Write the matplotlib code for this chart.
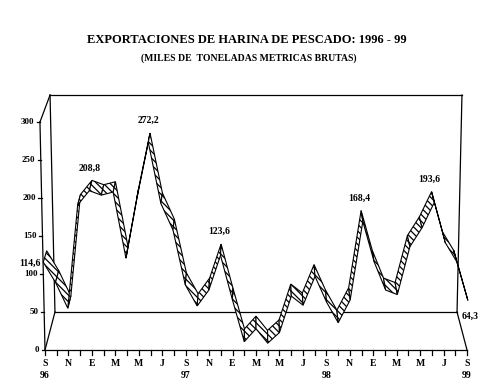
import numpy as np
import matplotlib.pyplot as plt
from matplotlib.patches import Polygon

plt.rcParams['font.family'] = ['Liberation Serif', 'DejaVu Serif']
plt.rcParams['font.weight'] = 'bold'
plt.rcParams['hatch.linewidth'] = 0.9

# Datos: exportaciones mensuales, sep 1996 - sep 1999 (miles de t)
mes_idx = np.arange(37)
valores = [114.6, 88, 54, 190, 208.8, 203, 207, 120, 200, 272.2, 192, 157,
           85, 57, 78, 123.6, 65, 10, 27, 8, 22, 70, 58, 96,
           62, 35, 65, 168.4, 115, 78, 72, 135, 160, 193.6, 140, 115,
           64.3]
etiquetas_mes = ['S', 'N', 'E', 'M', 'M', 'J'] * 3 + ['S']
etiquetas_anio = ['96', '97', '98', '99']
yticks = [0, 50, 100, 150, 200, 250, 300]
picos = [4, 9, 15, 27, 33]

titulo = 'EXPORTACIONES DE HARINA DE PESCADO: 1996 - 99'
subtitulo = '(MILES DE  TONELADAS METRICAS BRUTAS)'

# caja en perspectiva (coordenadas del plano frontal: mes, valor)
FRENTE = {'bl': (0, 0), 'br': (36, 0), 'tl': (-0.43, 300), 'tr': (36.43, 300)}
FONDO = {'bl': (0.85, 50), 'br': (35.15, 50), 'tl': (0.43, 335.5), 'tr': (35.57, 335.5)}
Z0, Z1 = 0.02, 0.36  # profundidad de la cinta


def plano(c, u, s):
    x = (1-u)*(1-s)*c['bl'][0] + u*(1-s)*c['br'][0] + (1-u)*s*c['tl'][0] + u*s*c['tr'][0]
    y = (1-u)*(1-s)*c['bl'][1] + u*(1-s)*c['br'][1] + (1-u)*s*c['tl'][1] + u*s*c['tr'][1]
    return x, y


def proj(t, v, z):
    u = np.asarray(t, dtype=float) / 36
    s = np.asarray(v, dtype=float) / 300
    z = np.asarray(z, dtype=float)
    xf, yf = plano(FRENTE, u, s)
    xb, yb = plano(FONDO, u, s)
    return (1-z)*xf + z*xb, (1-z)*yf + z*yb


fig = plt.figure(figsize=(4.94, 3.86), dpi=100)
ax = fig.add_axes([45/494, 36/386, 422/494, 228/386])
ax.set_xlim(0, 36)
ax.set_ylim(0, 300)
ax.axis('off')


def linea(t, v, z):
    x, y = proj(t, v, z)
    ax.plot(x, y, color='black', lw=0.9, clip_on=False, zorder=1)


# paredes y piso
linea([0, 36], [0, 0], [0, 0])
linea([0, 0], [0, 300], [0, 0])
linea([0, 0], [300, 300], [0, 1])
linea([0, 0], [0, 0], [0, 1])
linea([36, 36], [0, 0], [0, 1])
linea([0, 36], [0, 0], [1, 1])
linea([0, 0], [0, 300], [1, 1])
linea([36, 36], [0, 300], [1, 1])
linea([0, 36], [300, 300], [1, 1])

# ticks eje Y
for v in yticks:
    x0, y0 = proj(0, v, 0)
    ax.plot([x0 - 0.28, x0], [y0, y0], color='black', lw=0.9, clip_on=False)
    ax.annotate(str(v), (x0, y0), xytext=(-4, 0), textcoords='offset points',
                ha='right', va='center', fontsize=6.5, annotation_clip=False)

# ticks eje X
for i in mes_idx:
    ax.plot([i, i], [0, -6.5], color='black', lw=0.9, clip_on=False)
for k, lab in enumerate(etiquetas_mes):
    ax.annotate(lab, (2*k, 0), xytext=(0, -9.5), textcoords='offset points',
                ha='center', va='center', fontsize=7, annotation_clip=False)
for k, lab in enumerate(etiquetas_anio):
    ax.annotate(lab, (12*k, 0), xytext=(0, -18.5), textcoords='offset points',
                ha='center', va='center', fontsize=7, annotation_clip=False)

# cinta 3D
xf, yf = proj(mes_idx, valores, Z0)
xb, yb = proj(mes_idx, valores, Z1)
for i in range(len(valores) - 1):
    quad = [(xf[i], yf[i]), (xf[i+1], yf[i+1]), (xb[i+1], yb[i+1]), (xb[i], yb[i])]
    ax.add_patch(Polygon(quad, closed=True, facecolor='white', edgecolor='black',
                         hatch='\\\\\\\\\\', lw=0.8, clip_on=False, zorder=3))


def fmt(v):
    return f'{v:.1f}'.replace('.', ',')


for i in picos:
    ax.annotate(fmt(valores[i]), (xb[i], yb[i]), xytext=(-1.5, 9), textcoords='offset points',
                ha='center', va='center', fontsize=7, annotation_clip=False, zorder=5)
ax.annotate(fmt(valores[0]), (xf[0], yf[0]), xytext=(-2, -1), textcoords='offset points',
            ha='right', va='center', fontsize=7, annotation_clip=False)
ax.annotate(fmt(valores[-1]), (xf[-1], yf[-1]), xytext=(-4.5, -11.5), textcoords='offset points',
            ha='left', va='center', fontsize=7, annotation_clip=False)

fig.text(0.5, 1 - 40/386, titulo, ha='center', va='center', fontsize=9)
fig.text(0.503, 1 - 58/386, subtitulo, ha='center', va='center', fontsize=7)

fig.savefig('out.png', dpi=100, facecolor='white')
